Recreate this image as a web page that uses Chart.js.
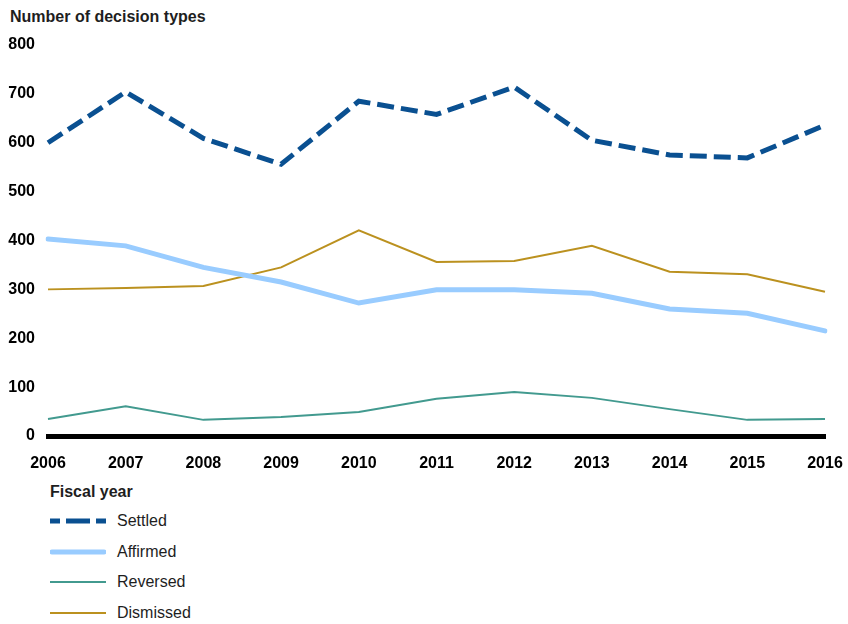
<!DOCTYPE html>
<html>
<head>
<meta charset="utf-8">
<script src="https://cdn.jsdelivr.net/npm/chart.js@4/dist/chart.umd.min.js"></script>
<style>
  html, body { margin: 0; padding: 0; background: #fff; }
  body { width: 848px; height: 624px; position: relative; overflow: hidden; font-family: "Liberation Sans", Arial, sans-serif; }
  #title { position: absolute; left: 10px; top: 8px; font-size: 16px; font-weight: bold; color: #1e1e1e; line-height: 18px; }
  #wrap { position: absolute; left: 0; top: 0; width: 848px; height: 480px; }
  #legend { position: absolute; left: 50px; top: 483px; font-size: 16px; color: #1e1e1e; }
  #legend .head { font-weight: bold; height: 18px; line-height: 18px; margin-bottom: 11px; }
  #legend .item { display: flex; align-items: center; height: 18px; margin-bottom: 12.7px; }
  #legend svg { width: 56px; height: 8px; margin-right: 11px; }
</style>
</head>
<body>
<div id="title">Number of decision types</div>
<div id="wrap"><canvas id="c" width="848" height="480"></canvas></div>
<div id="legend"></div>
<script>
const years = ["2006","2007","2008","2009","2010","2011","2012","2013","2014","2015","2016"];
const settled   = [600, 704, 609, 556, 685, 658, 714, 605, 575, 569, 636];
const affirmed  = [403, 389, 345, 315, 272, 299, 299, 292, 260, 251, 215];
const reversed  = [35, 61, 33, 39, 49, 76, 90, 78, 55, 33, 35];
const dismissed = [300, 303, 307, 345, 421, 356, 358, 389, 336, 331, 295];
const yTicks = [0, 100, 200, 300, 400, 500, 600, 700, 800];
const seriesNames = ["Settled", "Affirmed", "Reversed", "Dismissed"];
const legendTitle = "Fiscal year";

const colors = { Settled: "#0a5091", Affirmed: "#99ccff", Reversed: "#429a8f", Dismissed: "#bb911f" };

const datasets = [
  { label: seriesNames[0], data: settled, borderColor: colors.Settled, borderWidth: 5, borderDash: [17, 7], borderCapStyle: "butt" },
  { label: seriesNames[1], data: affirmed, borderColor: colors.Affirmed, borderWidth: 5, borderCapStyle: "round" },
  { label: seriesNames[2], data: reversed, borderColor: colors.Reversed, borderWidth: 2 },
  { label: seriesNames[3], data: dismissed, borderColor: colors.Dismissed, borderWidth: 2 }
].map(d => Object.assign({ pointRadius: 0, tension: 0, fill: false, borderJoinStyle: "miter" }, d));

datasets.forEach((d, i) => d.order = i);

const tickFont = { family: "'Liberation Sans', Arial, sans-serif", size: 16, weight: "bold" };

new Chart(document.getElementById("c"), {
  type: "line",
  data: { labels: years, datasets },
  options: {
    responsive: false,
    devicePixelRatio: 1,
    animation: false,
    layout: { padding: { left: 0, right: 23, top: 45, bottom: 0 } },
    plugins: { legend: { display: false }, tooltip: { enabled: false }, title: { display: false } },
    scales: {
      x: {
        type: "category",
        offset: false,
        grid: { display: false, drawTicks: false },
        border: { display: true, color: "#000", width: 5 },
        ticks: { color: "#000", font: tickFont, padding: 18, maxRotation: 0, autoSkip: false },
        afterFit: s => { s.height = 44; s.paddingLeft = 0; s.paddingRight = 0; }
      },
      y: {
        min: 0, max: 800,
        afterBuildTicks: s => { s.ticks = yTicks.map(v => ({ value: v })); },
        grid: { display: false, drawTicks: false },
        border: { display: false },
        ticks: { color: "#000", font: tickFont, padding: 13 },
        afterFit: s => { s.width = 48; s.paddingTop = 0; s.paddingBottom = 0; }
      }
    }
  }
});

const lg = document.getElementById("legend");
const head = document.createElement("div");
head.className = "head";
head.textContent = legendTitle;
lg.appendChild(head);
datasets.forEach(d => {
  const item = document.createElement("div");
  item.className = "item";
  const ns = "http://www.w3.org/2000/svg";
  const svg = document.createElementNS(ns, "svg");
  svg.setAttribute("viewBox", "0 0 56 8");
  const ln = document.createElementNS(ns, "line");
  ln.setAttribute("x1", d.borderCapStyle === "round" ? 2 : 0);
  ln.setAttribute("x2", d.borderCapStyle === "round" ? 54 : 56);
  ln.setAttribute("y1", 4); ln.setAttribute("y2", 4);
  ln.setAttribute("stroke", d.borderColor);
  ln.setAttribute("stroke-width", d.borderWidth);
  ln.setAttribute("stroke-linecap", d.borderCapStyle === "round" ? "round" : "butt");
  if (d.borderDash) { ln.setAttribute("stroke-dasharray", "24 6"); ln.setAttribute("stroke-dashoffset", "14"); }
  svg.appendChild(ln);
  const t = document.createElement("span");
  t.textContent = d.label;
  item.appendChild(svg);
  item.appendChild(t);
  lg.appendChild(item);
});
</script>
</body>
</html>
